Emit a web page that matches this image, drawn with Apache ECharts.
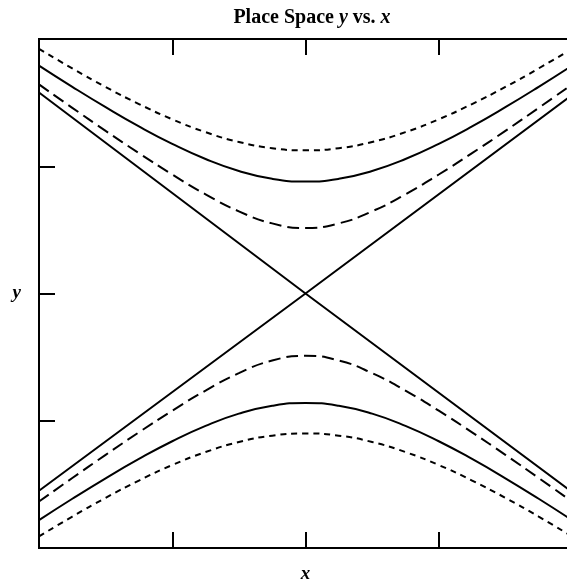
<!DOCTYPE html>
<html>
<head>
<meta charset="utf-8">
<script src="https://cdn.jsdelivr.net/npm/echarts@6/dist/echarts.min.js"></script>
<style>
  html, body { margin: 0; padding: 0; background: #fff; }
  #chart { width: 567px; height: 580px; }
</style>
</head>
<body>
<div id="chart"></div>
<script>
// Sample positions along x
const xs = [-2, -1.75, -1.5, -1.25, -1, -0.75, -0.5, -0.25, 0, 0.25, 0.5, 0.75, 1, 1.25, 1.5, 1.75, 2];

// Upper branches (outer short-dash, middle solid, inner long-dash)
const upperShort = [1.923, 1.769, 1.623, 1.489, 1.369, 1.268, 1.191, 1.142, 1.125, 1.142, 1.191, 1.268, 1.369, 1.489, 1.623, 1.769, 1.923];
const upperSolid = [1.791, 1.624, 1.464, 1.313, 1.176, 1.057, 0.963, 0.901, 0.880, 0.901, 0.963, 1.057, 1.176, 1.313, 1.464, 1.624, 1.791];
const upperLong  = [1.643, 1.459, 1.278, 1.103, 0.935, 0.779, 0.646, 0.551, 0.515, 0.551, 0.646, 0.779, 0.935, 1.103, 1.278, 1.459, 1.643];

// Lower branches (inner long-dash, middle solid, outer short-dash)
const lowerLong  = [-1.635, -1.450, -1.268, -1.091, -0.921, -0.763, -0.626, -0.527, -0.490, -0.527, -0.626, -0.763, -0.921, -1.091, -1.268, -1.450, -1.635];
const lowerSolid = [-1.781, -1.613, -1.452, -1.300, -1.161, -1.040, -0.944, -0.882, -0.860, -0.882, -0.944, -1.040, -1.161, -1.300, -1.452, -1.613, -1.781];
const lowerShort = [-1.909, -1.753, -1.606, -1.470, -1.348, -1.246, -1.167, -1.117, -1.100, -1.117, -1.167, -1.246, -1.348, -1.470, -1.606, -1.753, -1.909];

// Crossing asymptote lines
const lineXs   = [-2, 0, 2];
const lineDown = [1.58, 0, -1.56];
const lineUp   = [-1.55, 0, 1.56];

const pair = (xv, yv) => xv.map((x, i) => [x, yv[i]]);

const serif = '"Liberation Serif", "DejaVu Serif", serif';

function curve(yv, type, xv) {
  return {
    type: 'line',
    data: pair(xv || xs, yv),
    smooth: true,
    showSymbol: false,
    silent: true,
    clip: true,
    lineStyle: { color: '#000', width: 2, type: type }
  };
}

const tick = { show: true, inside: true, length: 16, lineStyle: { color: '#000', width: 2 } };

const chart = echarts.init(document.getElementById('chart'), null, { renderer: 'canvas' });

chart.setOption({
  animation: false,
  backgroundColor: '#fff',
  title: {
    text: '{b|Place Space }{i|y}{b| vs. }{i|x}',
    left: 307,
    top: 3,
    textAlign: 'center',
    textStyle: {
      rich: {
        b: { fontFamily: serif, fontWeight: 'bold', fontSize: 20, color: '#000' },
        i: { fontFamily: serif, fontWeight: 'bold', fontStyle: 'italic', fontSize: 20, color: '#000' }
      }
    }
  },
  grid: {
    left: 39, top: 39, width: 533, height: 509,
    outerBoundsMode: 'none',
    containLabel: false,
    show: true, borderColor: '#000', borderWidth: 2, backgroundColor: 'transparent'
  },
  xAxis: [
    {
      type: 'value', min: -2, max: 2, interval: 1, position: 'bottom',
      name: 'x', nameLocation: 'middle', nameGap: 17,
      nameTextStyle: { fontFamily: serif, fontStyle: 'italic', fontWeight: 'bold', fontSize: 19, color: '#000' },
      axisLine: { show: false, onZero: false },
      axisTick: tick,
      axisLabel: { show: false },
      splitLine: { show: false }
    },
    {
      type: 'value', min: -2, max: 2, interval: 1, position: 'top',
      axisLine: { show: false, onZero: false },
      axisTick: tick,
      axisLabel: { show: false },
      splitLine: { show: false }
    }
  ],
  yAxis: {
    type: 'value', min: -2, max: 2, interval: 1, position: 'left',
    name: 'y', nameLocation: 'middle', nameGap: 18, nameRotate: 0,
    nameTextStyle: { fontFamily: serif, fontStyle: 'italic', fontWeight: 'bold', fontSize: 19, color: '#000' },
    axisLine: { show: false, onZero: false },
    axisTick: tick,
    axisLabel: { show: false },
    splitLine: { show: false }
  },
  series: [
    curve(upperShort, [6, 5]),
    curve(upperSolid, 'solid'),
    curve(upperLong, [12, 6]),
    curve(lowerLong, [12, 6]),
    curve(lowerSolid, 'solid'),
    curve(lowerShort, [6, 5]),
    Object.assign(curve(lineDown, 'solid', lineXs), { smooth: false }),
    Object.assign(curve(lineUp, 'solid', lineXs), { smooth: false })
  ]
});
</script>
</body>
</html>
